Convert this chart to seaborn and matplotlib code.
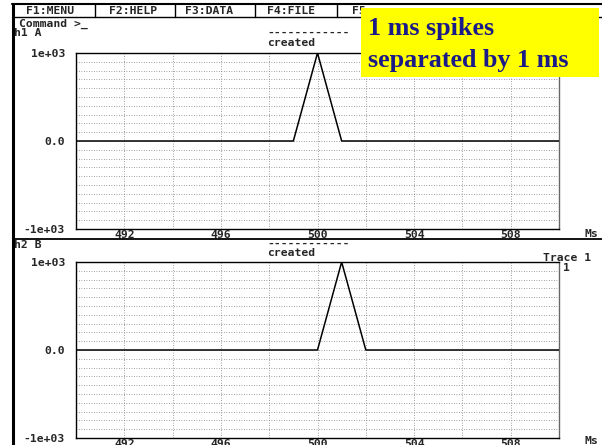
import numpy as np
import pandas as pd
import matplotlib
matplotlib.use("Agg")
import matplotlib.pyplot as plt
from matplotlib.patches import Rectangle
from matplotlib.lines import Line2D
from matplotlib.ticker import FixedLocator, MultipleLocator, FixedFormatter
import seaborn as sns

# dados (ms, amplitude)
tempo_ms = [490, 499, 500, 501, 502, 510]
traco_h1_a = [0, 0, 1000, 0, 0, 0]
traco_h2_b = [0, 0, 0, 1000, 0, 0]

xticks_rotulos = [492, 496, 500, 504, 508]
yticks_valores = [-1000, 0, 1000]
yticks_rotulos = ["-1e+03", "0.0", "1e+03"]
menu_itens = ["F1:MENU", "F2:HELP", "F3:DATA", "F4:FILE", "F5"]
menu_x = [50, 133, 209, 291, 352]

W, H = 602, 445
FS = 8.2

sns.set_style("white")
plt.rcParams["font.family"] = ["DejaVu Sans Mono"]
plt.rcParams["font.weight"] = "bold"
plt.rcParams["font.size"] = FS


def px(x, y):
    return x / W, 1 - y / H


fig = plt.figure(figsize=(W / 100, H / 100), dpi=100)
fig.patch.set_facecolor("white")

ax_a = fig.add_axes([76 / W, 1 - 229 / H, 483 / W, 176 / H])
ax_b = fig.add_axes([76 / W, 1 - 438 / H, 483 / W, 176 / H])

df = pd.DataFrame({"ms": tempo_ms, "A": traco_h1_a, "B": traco_h2_b})

for ax, col in [(ax_a, "A"), (ax_b, "B")]:
    sns.lineplot(data=df, x="ms", y=col, ax=ax, color="black", lw=1.1, zorder=3)
    ax.set_xlim(490, 510)
    ax.set_ylim(-1000, 1000)
    ax.xaxis.set_major_locator(FixedLocator(xticks_rotulos))
    ax.xaxis.set_minor_locator(MultipleLocator(2))
    ax.yaxis.set_major_locator(FixedLocator(yticks_valores))
    ax.yaxis.set_major_formatter(FixedFormatter(yticks_rotulos))
    ax.yaxis.set_minor_locator(MultipleLocator(100))
    ax.grid(which="both", ls=(0, (1, 2)), color="0.5", lw=0.6)
    ax.tick_params(which="both", direction="in", length=4, width=1, color="black")
    ax.tick_params(axis="y", pad=8, labelsize=FS)
    ax.tick_params(axis="x", pad=1, labelsize=FS)
    ax.set_xlabel("")
    ax.set_ylabel("")
    for s in ax.spines.values():
        s.set_visible(True)
        s.set_color("black")
        s.set_linewidth(1)
    ax.spines["right"].set_color("0.4")

# bordas da "tela"
linhas = [
    ((12, 602), (4, 4), 1.5),
    ((12, 602), (17, 17), 1.0),
    ((13, 13), (4, 445), 2.2),
    ((13, 602), (239, 239), 1.3),
]
for xs, ys, lw in linhas:
    fig.add_artist(Line2D([x / W for x in xs], [1 - y / H for y in ys],
                          color="black", lw=lw))
for xv in [95, 175, 255, 337]:
    fig.add_artist(Line2D([xv / W, xv / W], [1 - 4 / H, 1 - 17 / H],
                          color="black", lw=1.0))

for item, xm in zip(menu_itens, menu_x):
    ha = "left" if item == "F5" else "center"
    fig.text(*px(xm, 11), item, ha=ha, va="center")

fig.text(*px(19, 24), "Command >_", ha="left", va="center")
fig.text(*px(14, 33), "h1 A", ha="left", va="center")
fig.text(*px(14, 245), "h2 B", ha="left", va="center")

fig.text(*px(267, 33), "------------", ha="left", va="center")
fig.text(*px(267, 43), "created", ha="left", va="center")
fig.text(*px(267, 244), "------------", ha="left", va="center")
fig.text(*px(267, 253), "created", ha="left", va="center")

fig.text(*px(543, 258), "Trace 1", ha="left", va="center")
fig.text(*px(563, 268), "1", ha="left", va="center")

fig.text(*px(591, 234), "Ms", ha="center", va="center")
fig.text(*px(591, 441), "Ms", ha="center", va="center")

# caixa amarela de anotacao
fig.add_artist(Rectangle(px(361, 77), 238 / W, 69 / H, facecolor="#ffff00",
                         edgecolor="none", zorder=5))
fig.text(*px(368, 28), "1 ms spikes", ha="left", va="center", color="#1a1a88",
         family=["Liberation Serif"], weight="bold", size=18.8, zorder=6)
fig.text(*px(368, 60), "separated by 1 ms", ha="left", va="center", color="#1a1a88",
         family=["Liberation Serif"], weight="bold", size=18.8, zorder=6)

fig.savefig("out.png", dpi=100)
